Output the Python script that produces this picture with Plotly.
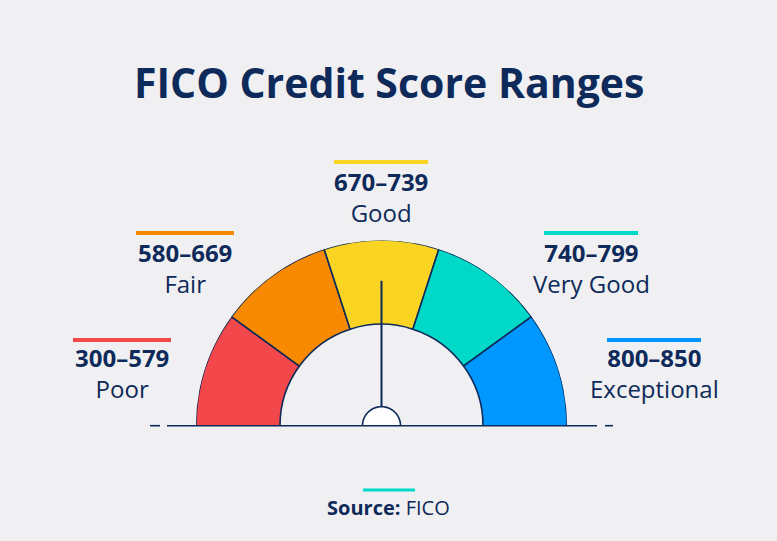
import plotly.graph_objects as go
import numpy as np

# ---- data ----
ranges = ["300–579", "580–669", "670–739", "740–799", "800–850"]
labels = ["Poor", "Fair", "Good", "Very Good", "Exceptional"]
colors = ["#F2474B", "#F78A00", "#F9D423", "#00D8C8", "#0098FF"]
needle_score_band = 2  # index of band the needle points into (Good)

W, H = 777, 541
NAVY = "#0D2A5A"
BG = "#F0F0F2"
FONT = "Open Sans"

# gauge geometry (pixels)
cx, cy, R = 381.5, 425.7, 185.5
r_in = 101.5 / R

def px(x):
    return x / W

def py(y):
    return 1 - y / H

n = len(ranges)
seg = 180.0 / n
thetas = [180 - seg * (i + 0.5) for i in range(n)]

fig = go.Figure()
fig.add_trace(go.Barpolar(
    r=[1 - r_in] * n, base=[r_in] * n, theta=thetas, width=[seg] * n,
    marker=dict(color=colors, line=dict(color=NAVY, width=1.6)),
    hoverinfo="skip", showlegend=False))

# needle
needle_theta = thetas[needle_score_band]
fig.add_trace(go.Scatterpolar(
    r=[0, 145 / R], theta=[needle_theta, needle_theta], mode="lines",
    line=dict(color=NAVY, width=2), hoverinfo="skip", showlegend=False))

# hub
hub_t = np.linspace(0, 180, 61)
fig.add_trace(go.Scatterpolar(
    r=[19 / R] * len(hub_t), theta=hub_t, mode="lines", fill="toself",
    fillcolor="white", line=dict(color=NAVY, width=1.6),
    hoverinfo="skip", showlegend=False))

fig.update_layout(
    width=W, height=H, margin=dict(l=0, r=0, t=0, b=0),
    paper_bgcolor=BG, plot_bgcolor=BG,
    polar=dict(
        domain=dict(x=[px(cx - R), px(cx + R)], y=[py(cy), py(cy - R)]),
        sector=[0, 180], bgcolor="rgba(0,0,0,0)",
        radialaxis=dict(range=[0, 1], visible=False, showgrid=False),
        angularaxis=dict(visible=False, showgrid=False, direction="counterclockwise", rotation=0),
    ),
    showlegend=False,
)

shapes = []
# baseline with small dashes
shapes.append(dict(type="line", xref="paper", yref="paper", x0=px(167), x1=px(597),
                   y0=py(cy), y1=py(cy), line=dict(color=NAVY, width=1.6)))
for a, b in [(150, 160), (605, 613)]:
    shapes.append(dict(type="line", xref="paper", yref="paper", x0=px(a), x1=px(b),
                       y0=py(cy), y1=py(cy), line=dict(color=NAVY, width=1.6)))

def ann(text, x, y, size):
    return dict(text=text, x=px(x), y=py(y), xref="paper", yref="paper",
                xanchor="center", yanchor="middle", showarrow=False,
                font=dict(family=FONT, size=size, color=NAVY))

annotations = [ann("<b>FICO Credit Score Ranges</b>", 389, 82, 41)]

# label layout: (center x, text block center y, bar y, bar half width)
pos = [(122, 373, 340, 49), (185, 268, 233, 49), (381, 197, 162, 47),
       (591, 268, 233, 47), (654, 373, 340, 47)]
for i in range(n):
    x, yc, yb, hw = pos[i]
    annotations.append(ann("<b>" + ranges[i] + "</b><br>" + labels[i], x, yc, 24))
    shapes.append(dict(type="line", xref="paper", yref="paper", x0=px(x - hw), x1=px(x + hw),
                       y0=py(yb), y1=py(yb), line=dict(color=colors[i], width=4)))

# source
annotations.append(ann("<b>Source:</b> FICO", 389, 507, 20))
shapes.append(dict(type="line", xref="paper", yref="paper", x0=px(363), x1=px(415),
                   y0=py(490), y1=py(490), line=dict(color=colors[3], width=3)))

fig.update_layout(shapes=shapes, annotations=annotations)
fig.write_html("out.html", config={"displayModeBar": False},
               post_script="document.body.style.margin='0';")
